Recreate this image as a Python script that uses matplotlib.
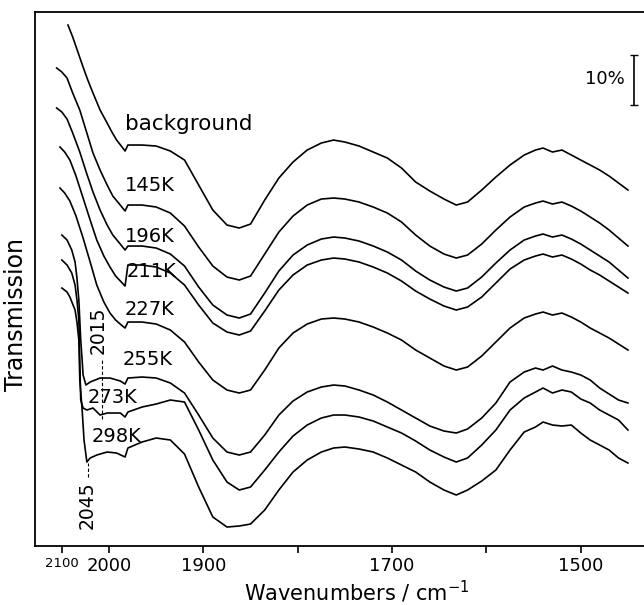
import numpy as np
import matplotlib.pyplot as plt

# common wavenumber grid (cm-1) below the grating change at ~1980 cm-1
wn_grid = [1980, 1965, 1950, 1935, 1920,
           1905, 1890, 1875, 1862, 1850,
           1835, 1820, 1805, 1790, 1775,
           1762, 1750, 1735, 1720, 1705,
           1690, 1675, 1660, 1645, 1632,
           1620, 1605, 1590, 1575, 1560,
           1548, 1540, 1530, 1520, 1510,
           1500, 1490, 1480, 1470, 1460,
           1450]

# stacked transmission (%)
bg_left_wn = [2087, 2077, 2066, 2055, 2045, 2034, 2019, 2004, 1997, 1992, 1987, 1983]
bg_left_t = [104.2, 101.8, 98.8, 95.8, 93.2, 90.6, 87.2, 84.6, 82.8, 81.2, 80.0, 79.0]
bg_t = [80.2, 80.2, 80.0, 79.0, 77.2,
        72.2, 67.2, 64.2, 63.6, 64.4,
        69.2, 73.6, 76.8, 79.2, 80.6,
        81.2, 80.8, 80.0, 78.8, 77.6,
        75.6, 72.8, 71.0, 69.4, 68.2,
        68.8, 71.2, 73.8, 76.2, 78.2,
        79.2, 79.6, 78.8, 79.2, 78.2,
        77.2, 76.2, 75.2, 74.0, 72.6,
        71.2]

k145_left_wn = [2111, 2100, 2089, 2077, 2062, 2047, 2034, 2019, 2004, 1996, 1989, 1983]
k145_left_t = [95.6, 94.8, 93.6, 90.6, 87.2, 82.6, 78.6, 75.2, 72.2, 70.0, 68.4, 67.0]
k145_t = [68.2, 68.2, 67.8, 66.6, 64.0,
          59.8, 56.0, 53.8, 53.2, 54.0,
          58.4, 62.8, 66.0, 68.2, 69.4,
          69.6, 69.4, 68.8, 67.8, 66.6,
          64.8, 62.2, 60.0, 58.4, 57.6,
          58.2, 60.4, 63.2, 65.8, 67.8,
          68.6, 69.0, 68.4, 68.8, 68.0,
          67.0, 65.8, 64.6, 63.2, 61.6,
          60.0]

k196_left_wn = [2111, 2100, 2089, 2077, 2062, 2047, 2034, 2019, 2004, 1996, 1989, 1983]
k196_left_t = [87.6, 86.8, 85.4, 82.6, 78.8, 74.4, 70.8, 67.2, 64.2, 62.2, 60.6, 59.2]
k196_t = [60.0, 60.0, 59.6, 58.4, 56.0,
          51.8, 48.2, 46.2, 45.6, 46.4,
          50.6, 55.0, 58.2, 60.2, 61.4,
          61.8, 61.6, 61.0, 60.0, 58.8,
          57.2, 55.0, 53.2, 51.8, 51.0,
          51.6, 53.8, 56.6, 59.2, 61.2,
          62.0, 62.4, 61.8, 62.2, 61.4,
          60.4, 59.2, 58.0, 56.8, 55.2,
          53.6]

k211_left_wn = [2104, 2094, 2083, 2070, 2055, 2040, 2026, 2011, 1999, 1993, 1987, 1983]
k211_left_t = [79.8, 78.8, 77.2, 74.0, 69.6, 65.2, 61.2, 58.0, 55.8, 54.0, 52.8, 52.0]
k211_t = [56.2, 56.2, 55.8, 54.6, 52.2,
          48.2, 44.6, 42.8, 42.2, 43.0,
          47.0, 51.2, 54.2, 56.2, 57.2,
          57.6, 57.4, 56.8, 55.8, 54.6,
          53.0, 51.0, 49.4, 48.0, 47.2,
          47.8, 49.8, 52.6, 55.4, 57.2,
          58.0, 58.4, 57.8, 58.2, 57.4,
          56.4, 55.2, 54.2, 53.0, 51.8,
          50.6]

k227_left_wn = [2104, 2094, 2083, 2070, 2055, 2040, 2026, 2011, 1999, 1993, 1987, 1983]
k227_left_t = [71.6, 70.6, 69.0, 66.0, 61.6, 56.8, 52.2, 48.8, 46.6, 45.2, 44.2, 43.6]
k227_t = [44.8, 44.8, 44.4, 43.2, 40.8,
          36.8, 33.2, 31.2, 30.6, 31.2,
          35.2, 39.6, 42.6, 44.4, 45.4,
          45.6, 45.4, 44.8, 43.8, 42.6,
          41.2, 39.2, 37.6, 36.0, 35.2,
          35.8, 38.0, 40.8, 43.6, 45.6,
          46.4, 46.8, 46.2, 46.6, 45.8,
          44.8, 43.6, 42.6, 41.6, 40.4,
          39.2]

k255_left_wn = [2100, 2089, 2079, 2072, 2068, 2064, 2062, 2060, 2057, 2055, 2049, 2040, 2019, 1999, 1988, 1983]
k255_left_t = [62.2, 61.2, 59.2, 56.8, 53.6, 49.2, 45.2, 41.2, 37.2, 34.2, 32.2, 32.8, 33.6, 33.6, 33.0, 32.4]
k255_t = [33.6, 33.8, 33.6, 32.6, 30.6,
          26.2, 21.6, 18.8, 18.2, 18.8,
          22.2, 26.2, 29.0, 30.8, 31.8,
          32.2, 32.0, 31.2, 30.2, 28.8,
          27.2, 25.6, 24.0, 23.0, 22.6,
          23.4, 25.6, 28.6, 32.8, 34.8,
          35.6, 35.2, 36.0, 35.2, 34.8,
          34.2, 33.2, 31.6, 30.4, 29.2,
          28.6]

k273_left_wn = [2100, 2089, 2079, 2072, 2068, 2064, 2062, 2060, 2055, 2047, 2034, 2019, 2004, 1988, 1983]
k273_left_t = [57.2, 56.2, 54.6, 52.2, 49.2, 45.2, 37.2, 29.2, 27.6, 27.2, 27.6, 26.2, 26.6, 26.6, 25.8]
k273_t = [26.8, 27.8, 28.4, 29.2, 28.8,
          23.2, 17.2, 12.8, 11.2, 11.8,
          15.2, 18.8, 22.0, 24.2, 25.6,
          26.2, 26.2, 25.8, 25.0, 23.8,
          22.6, 21.0, 19.2, 17.8, 16.8,
          17.6, 20.2, 23.2, 27.2, 29.6,
          30.8, 31.6, 30.6, 31.2, 30.8,
          29.4, 28.6, 27.2, 26.2, 25.2,
          23.2]

k298_left_wn = [2100, 2089, 2083, 2072, 2068, 2064, 2062, 2057, 2053, 2047, 2040, 2026, 2004, 1992, 1983]
k298_left_t = [51.6, 50.8, 49.8, 47.2, 44.8, 41.2, 33.2, 27.2, 21.2, 16.8, 17.6, 18.2, 18.8, 18.6, 17.8]
k298_t = [19.6, 20.8, 21.6, 21.2, 18.4,
          11.8, 5.8, 3.8, 4.0, 4.4,
          7.2, 11.2, 14.8, 17.2, 18.8,
          19.6, 19.8, 19.4, 18.8, 17.6,
          16.2, 14.8, 12.8, 11.2, 10.2,
          11.2, 13.0, 15.2, 19.2, 22.8,
          23.8, 24.8, 24.2, 24.0, 24.2,
          22.6, 21.2, 20.2, 19.2, 17.6,
          16.6]

spectra = [
    ("background", bg_left_wn, bg_left_t, bg_t, (1983, 84.4), 15.5),
    ("145K", k145_left_wn, k145_left_t, k145_t, (1983, 72.2), 14),
    ("196K", k196_left_wn, k196_left_t, k196_t, (1983, 62.0), 14),
    ("211K", k211_left_wn, k211_left_t, k211_t, (1981, 55.0), 14),
    ("227K", k227_left_wn, k227_left_t, k227_t, (1983, 47.4), 14),
    ("255K", k255_left_wn, k255_left_t, k255_t, (1986, 37.4), 14),
    ("273K", k273_left_wn, k273_left_t, k273_t, (2045, 29.8), 14),
    ("298K", k298_left_wn, k298_left_t, k298_t, (2036, 22.0), 14),
]


# spectrometer scale is compressed by 2 above 2000 cm-1
def fwd(w):
    w = np.asarray(w, dtype=float)
    return np.where(w > 2000, 2000 + (w - 2000) * 0.5, w)


def inv(t):
    t = np.asarray(t, dtype=float)
    return np.where(t > 2000, 2000 + (t - 2000) * 2.0, t)


plt.rcParams['font.family'] = 'DejaVu Sans'

fig = plt.figure(figsize=(6.44, 6.05), dpi=100)
ax = fig.add_axes([0.0543, 0.0975, 0.9457, 0.8826])
ax.set_xscale('function', functions=(fwd, inv))
ax.set_xlim(2157, 1433)
ax.set_ylim(0, 106.8)

for name, left_wn, left_t, right_t, (lx, ly), fs in spectra:
    ax.plot(left_wn + wn_grid, left_t + right_t, color='black', linewidth=1.2)
    ax.text(lx, ly, name, fontsize=fs, ha='left', va='center')

# band markers
ax.plot([2015, 2015], [25.5, 37.5], color='black', linewidth=0.8, dashes=(3, 2))
ax.text(2023, 43.2, '2015', rotation=90, fontsize=13.5, ha='center', va='center')
ax.plot([2045, 2045], [13.8, 16.6], color='black', linewidth=0.8, dashes=(3, 2))
ax.text(2047, 8.2, '2045', rotation=90, fontsize=13.5, ha='center', va='center')

# 10 % scale bar
ax.errorbar(1444, 93.2, yerr=5.0, color='black', capsize=3, linewidth=1.2)
ax.text(1453, 93.4, '10%', fontsize=13, ha='right', va='center')

ticks = [2100, 2000, 1900, 1800, 1700, 1600, 1500]
tick_labels = ['2100', '2000', '1900', '', '1700', '', '1500']
ax.set_xticks(ticks)
ax.set_xticklabels(tick_labels, fontsize=13)
ax.get_xticklabels()[0].set_fontsize(9.5)
ax.tick_params(axis='x', direction='out', length=5, width=1.2, pad=3)
ax.minorticks_off()
ax.set_yticks([])

ax.spines['right'].set_visible(False)
for side in ['left', 'top', 'bottom']:
    ax.spines[side].set_linewidth(1.3)

ax.set_xlabel('Wavenumbers / cm$^{-1}$', fontsize=15)
ax.xaxis.set_label_coords(0.529, -0.062)
ax.set_ylabel('Transmission', fontsize=17)
ax.yaxis.set_label_coords(-0.012, 0.433)

fig.savefig('out.png', dpi=100)
